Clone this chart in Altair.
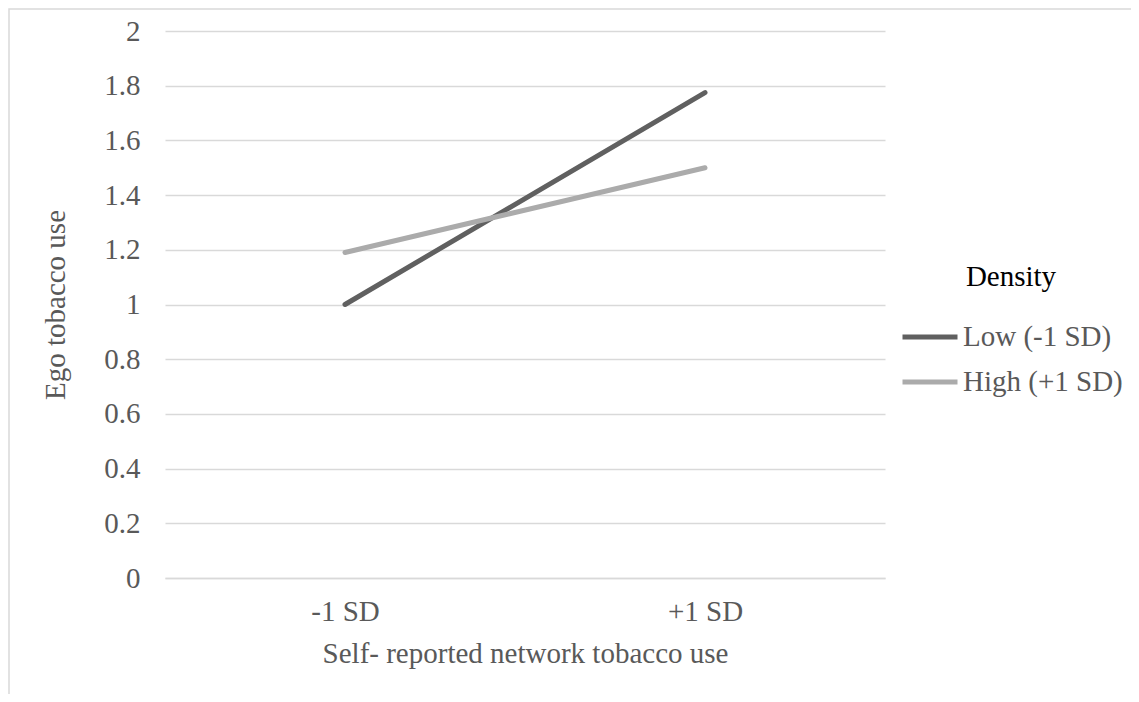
import altair as alt
import pandas as pd

# Data
x_levels = ["-1 SD", "+1 SD"]
density_groups = ["Low (-1 SD)", "High (+1 SD)"]
low_values = [1.0, 1.775]
high_values = [1.19, 1.50]
y_ticks = [0, 0.2, 0.4, 0.6, 0.8, 1.0, 1.2, 1.4, 1.6, 1.8, 2.0]

rows = []
for g, vals in zip(density_groups, [low_values, high_values]):
    for xl, v in zip(x_levels, vals):
        rows.append({"network": xl, "ego": v, "Density": g})
df = pd.DataFrame(rows)

FONT = "Liberation Serif"
TXT = "#595959"
FS = 29

lines = alt.Chart(df).mark_line(strokeWidth=5, strokeCap="round").encode(
    x=alt.X("network:N", sort=x_levels, scale=alt.Scale(type="point", padding=0.5),
            axis=alt.Axis(title="Self- reported network tobacco use", labelAngle=0,
                          ticks=False, domain=True, domainColor="#d9d9d9", domainWidth=1.5,
                          labelPadding=19, titlePadding=13, grid=False)),
    y=alt.Y("ego:Q", scale=alt.Scale(domain=[0, 2], nice=False),
            axis=alt.Axis(title="Ego tobacco use", values=y_ticks, format="~g",
                          ticks=False, domain=False, grid=True, gridColor="#d9d9d9",
                          gridWidth=1.5, labelPadding=25, titlePadding=33)),
    color=alt.Color("Density:N", sort=density_groups,
                    scale=alt.Scale(domain=density_groups, range=["#606060", "#ababab"]),
                    legend=alt.Legend(orient="none", legendX=735, legendY=232,
                                      symbolType="stroke", symbolSize=3025,
                                      symbolStrokeWidth=5, labelOffset=3,
                                      rowPadding=-3, titlePadding=15,
                                      titleAnchor="middle")),
)

border = alt.Chart(pd.DataFrame({"a": [0]})).mark_rect(
    fill=None, stroke="#d9d9d9", strokeWidth=1.5
).encode(
    x=alt.value(-156), x2=alt.value(1200), y=alt.value(-22), y2=alt.value(900)
)

chart = alt.layer(border, lines).properties(
    width=720, height=547,
    autosize=alt.AutoSizeParams(type="none"),
    padding={"left": 157, "top": 23, "right": 246, "bottom": 116},
).configure_view(stroke=None).configure_axis(
    labelFont=FONT, titleFont=FONT, labelFontSize=FS, titleFontSize=FS,
    labelColor=TXT, titleColor=TXT, titleFontWeight="normal",
).configure_legend(
    labelFont=FONT, titleFont=FONT, labelFontSize=FS, titleFontSize=FS,
    labelColor=TXT, titleColor="#000000", titleFontWeight="normal",
)

chart.save("out.html", embed_options={"renderer": "svg", "actions": False})
